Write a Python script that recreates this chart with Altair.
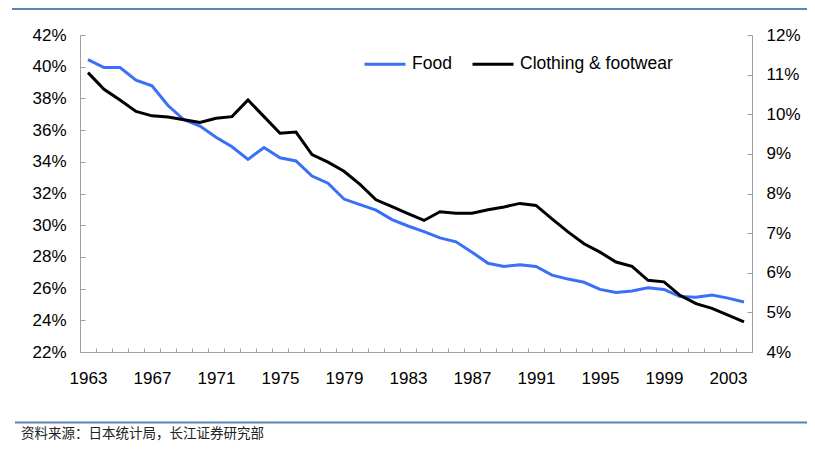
import altair as alt
import pandas as pd

years = list(range(1963, 2005))
food = [40.45, 39.95, 39.95, 39.15, 38.8, 37.55, 36.65, 36.25, 35.55, 34.95,
        34.15, 34.9, 34.25, 34.05, 33.1, 32.65, 31.65, 31.3, 30.95, 30.35,
        29.95, 29.6, 29.2, 28.95, 28.3, 27.6, 27.4, 27.5, 27.4, 26.85,
        26.6, 26.4, 25.95, 25.75, 25.85, 26.05, 25.95, 25.5, 25.45, 25.6,
        25.4, 25.15]
clothing = [11.05, 10.63, 10.36, 10.07, 9.96, 9.93, 9.86, 9.79, 9.9, 9.94,
            10.36, 9.94, 9.52, 9.55, 8.98, 8.79, 8.56, 8.23, 7.84, 7.67,
            7.49, 7.32, 7.54, 7.5, 7.5, 7.59, 7.66, 7.75, 7.7, 7.36,
            7.03, 6.73, 6.52, 6.27, 6.16, 5.81, 5.77, 5.43, 5.22, 5.1,
            4.93, 4.76]
series_names = ["Food", "Clothing & footwear"]
label_years = list(range(1963, 2005, 4))
left_ticks = list(range(22, 43, 2))
right_ticks = list(range(4, 13))
source_text = "资料来源：日本统计局，长江证券研究部"

df_food = pd.DataFrame({"year": years, "value": food, "series": series_names[0]})
df_cloth = pd.DataFrame({"year": years, "value": clothing, "series": series_names[1]})
dummy = pd.DataFrame({"a": [0]})

W, H = 672, 317
FONT = "Liberation Sans"
AX = "#a0a0a0"

xscale = alt.Scale(domain=[1962.5, 2004.5], nice=False, zero=False)
yl = alt.Scale(domain=[22, 42], nice=False, zero=False)
yr = alt.Scale(domain=[4, 12], nice=False, zero=False)
xtick_vals = [1962.5 + i for i in range(43)]

color = alt.Color(
    "series:N",
    scale=alt.Scale(domain=series_names, range=["#3a6ff7", "#000000"]),
    legend=alt.Legend(orient="none", legendX=283, legendY=7, direction="horizontal",
                      title=None, symbolType="stroke", symbolSize=1681,
                      symbolStrokeWidth=3, labelFontSize=17.5, labelFont=FONT,
                      labelColor="black", columnPadding=14, padding=0,
                      labelOffset=5, symbolOffset=0),
)

food_line = alt.Chart(df_food).mark_line(strokeWidth=3).encode(
    x=alt.X("year:Q", scale=xscale,
            axis=alt.Axis(orient="bottom", values=label_years, format="d", ticks=False,
                          tickSize=0, labelPadding=18, labelFontSize=17, labelFont=FONT,
                          labelColor="black", domainColor=AX, grid=False, title=None,
                          labelFlush=False, labelOverlap=False)),
    y=alt.Y("value:Q", scale=yl,
            axis=alt.Axis(orient="left", values=left_ticks, labelExpr="datum.value + '%'",
                          ticks=False, tickSize=0, labelPadding=14, labelFontSize=17,
                          labelFont=FONT, labelColor="black", domainColor=AX, grid=False,
                          title=None)),
    color=color,
)

cloth_line = alt.Chart(df_cloth).mark_line(strokeWidth=3).encode(
    x=alt.X("year:Q", scale=xscale, axis=None),
    y=alt.Y("value:Q", scale=yr,
            axis=alt.Axis(orient="right", values=right_ticks, labelExpr="datum.value + '%'",
                          ticks=False, tickSize=0, labelPadding=14, labelFontSize=17,
                          labelFont=FONT, labelColor="black", domainColor=AX, grid=False,
                          title=None)),
    color=color,
)

ticks_a = alt.Chart(df_food).mark_line(opacity=0).encode(
    x=alt.X("year:Q", scale=xscale,
            axis=alt.Axis(orient="top", offset=-H, values=xtick_vals, labels=False,
                          domain=False, ticks=True, tickSize=4, tickColor=AX, grid=False,
                          title=None)),
    y=alt.Y("value:Q", scale=yl,
            axis=alt.Axis(orient="right", offset=-W, values=left_ticks, labels=False,
                          domain=False, ticks=True, tickSize=5, tickColor=AX, grid=False,
                          title=None)),
)

ticks_b = alt.Chart(df_cloth).mark_line(opacity=0).encode(
    x=alt.X("year:Q", scale=xscale, axis=None),
    y=alt.Y("value:Q", scale=yr,
            axis=alt.Axis(orient="left", offset=-W, values=right_ticks, labels=False,
                          domain=False, ticks=True, tickSize=5, tickColor=AX, grid=False,
                          title=None)),
)

top_rule = alt.Chart(dummy).mark_rule(color="#5b86b3", strokeWidth=2).encode(
    x=alt.value(-68), x2=alt.value(727), y=alt.value(-26))
bottom_rule = alt.Chart(dummy).mark_rule(color="#5b86b3", strokeWidth=2).encode(
    x=alt.value(-65), x2=alt.value(727), y=alt.value(387.5))
source = alt.Chart(dummy).mark_text(align="left", baseline="middle", fontSize=13.5,
                                    font="Noto Sans CJK SC", color="#222222").encode(
    x=alt.value(-59), y=alt.value(399), text=alt.value(source_text))

chart = alt.layer(food_line, cloth_line, ticks_a, ticks_b, top_rule, bottom_rule, source).resolve_scale(
    y="independent"
).resolve_axis(
    x="independent", y="independent"
).properties(
    width=W, height=H,
    autosize=alt.AutoSizeParams(type="none"),
    padding={"left": 72, "top": 27, "right": 55, "bottom": 92},
    background="white",
).configure_view(stroke=None)

chart.save("out.html", embed_options={"renderer": "svg", "actions": False})
